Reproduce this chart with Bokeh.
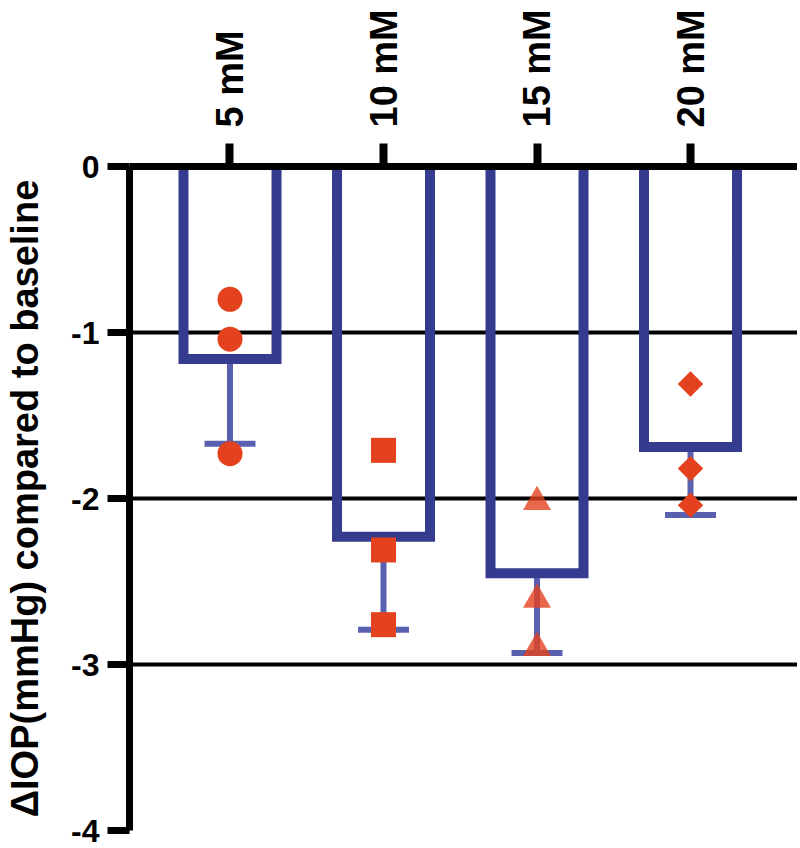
import math
from bokeh.plotting import figure
from bokeh.models import Range1d, FixedTicker
from bokeh.embed import file_html
from bokeh.resources import INLINE

# ---- data ----
categories = ["5 mM", "10 mM", "15 mM", "20 mM"]
positions = [1, 2, 3, 4]
means = [-1.16, -2.23, -2.45, -1.69]
sd = [0.51, 0.56, 0.48, 0.41]
pts_5mM = [-0.80, -1.04, -1.73]
pts_10mM = [-1.71, -2.31, -2.76]
pts_15mM = [-2.02, -2.61, -2.90]
pts_20mM = [-1.31, -1.82, -2.04]
y_ticks = [0, -1, -2, -3, -4]
y_tick_labels = ["0", "-1", "-2", "-3", "-4"]
grid_ticks = [-1, -2, -3]
y_title = "ΔIOP(mmHg) compared to baseline"

# ---- style ----
BLUE = "#353b8f"
ERR = "#5a60b0"
RED = "#e4421f"
FONT = "Liberation Sans"
bar_w = 0.606
cap_half = 0.166

p = figure(frame_width=668, frame_height=664,
           x_range=Range1d(0.3453, 4.697), y_range=Range1d(-4, 0),
           x_axis_location="above",
           output_backend="svg", toolbar_location=None,
           min_border_left=129, min_border_top=166,
           min_border_right=0, min_border_bottom=18)
p.outline_line_color = None
p.background_fill_color = "white"
p.border_fill_color = "white"

# x axis (top)
xa = p.xaxis[0]
xa.ticker = FixedTicker(ticks=positions)
xa.major_label_overrides = {pos: lab for pos, lab in zip(positions, categories)}
xa.major_label_orientation = math.pi / 2
xa.major_label_text_font = FONT
xa.major_label_text_font_style = "bold"
xa.major_label_text_font_size = "38px"
xa.major_label_text_color = "black"
xa.major_label_standoff = 16
xa.major_tick_out = 23
xa.major_tick_in = 0
xa.major_tick_line_width = 8
xa.major_tick_line_color = "black"
xa.minor_tick_line_color = None
xa.axis_line_width = 7
xa.axis_line_color = "black"

# y axis
ya = p.yaxis[0]
ya.ticker = FixedTicker(ticks=y_ticks)
ya.major_label_overrides = {t: lab for t, lab in zip(y_ticks, y_tick_labels)}
ya.major_label_text_font = FONT
ya.major_label_text_font_style = "bold"
ya.major_label_text_font_size = "32px"
ya.major_label_text_color = "black"
ya.major_label_standoff = 8
ya.major_tick_out = 22
ya.major_tick_in = 0
ya.major_tick_line_width = 7
ya.major_tick_line_color = "black"
ya.minor_tick_line_color = None
ya.axis_line_width = 7
ya.axis_line_color = "black"
ya.axis_label = y_title
ya.axis_label_text_font = FONT
ya.axis_label_text_font_style = "bold"
ya.axis_label_text_font_size = "38px"
ya.axis_label_text_color = "black"
ya.axis_label_standoff = 22

# grid
p.xgrid.visible = False
p.ygrid.ticker = FixedTicker(ticks=grid_ticks)
p.ygrid.grid_line_color = "black"
p.ygrid.grid_line_width = 4

# error bars (downward SD)
lower = [m - s for m, s in zip(means, sd)]
p.segment(x0=positions, y0=means, x1=positions, y1=lower,
          line_color=ERR, line_width=6)
p.segment(x0=[x - cap_half for x in positions], y0=lower,
          x1=[x + cap_half for x in positions], y1=lower,
          line_color=ERR, line_width=6)

# open bars (three sides, top hidden by axis)
xs = [[x - bar_w / 2, x - bar_w / 2, x + bar_w / 2, x + bar_w / 2] for x in positions]
ys = [[0, m, m, 0] for m in means]
p.multi_line(xs=xs, ys=ys, line_color=BLUE, line_width=10, line_join="miter")

# individual points
p.scatter(x=[positions[0]] * len(pts_5mM), y=pts_5mM, marker="circle",
          size=25, fill_color=RED, line_color=None)
p.scatter(x=[positions[1]] * len(pts_10mM), y=pts_10mM, marker="square",
          size=25, fill_color=RED, line_color=None)
p.scatter(x=[positions[2]] * len(pts_15mM), y=pts_15mM, marker="triangle",
          size=28, fill_color=RED, fill_alpha=0.8, line_color=None)
p.scatter(x=[positions[3]] * len(pts_20mM), y=pts_20mM, marker="square",
          angle=math.pi / 4, size=18, fill_color=RED, line_color=None)

open("out.html", "w").write(file_html(p, INLINE))
